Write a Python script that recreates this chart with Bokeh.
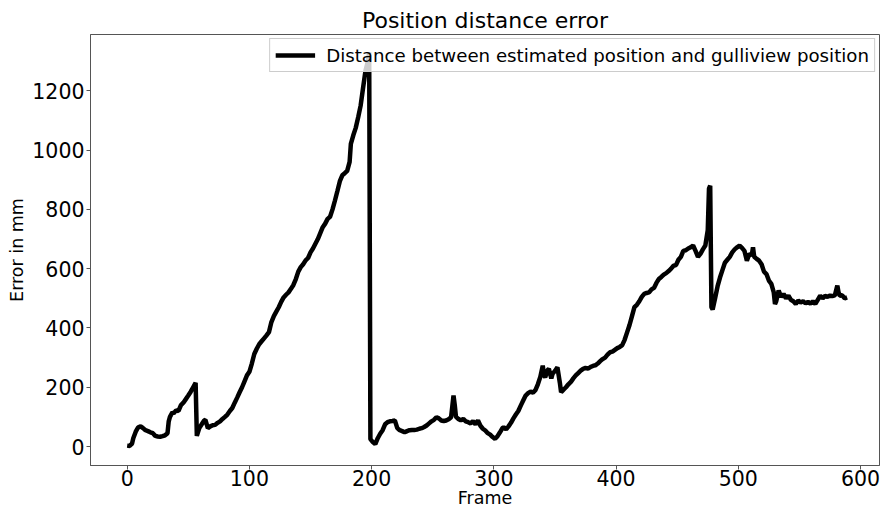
from bokeh.plotting import figure
from bokeh.models import Range1d, FixedTicker
from bokeh.embed import file_html
from bokeh.resources import INLINE

# ---- data ----
frames = [0, 2, 4, 5, 7, 9, 11, 13, 15, 17, 19, 21, 23, 25, 27, 29, 31, 33, 34, 35, 37, 38, 40, 42, 44, 46, 48, 50,
          52, 54, 56, 57, 59, 61, 63, 64, 66, 68, 70, 72, 74, 76, 78, 80, 82, 84, 86, 88, 90, 92, 94, 96, 98, 100,
          102, 104, 106, 108, 110, 112, 114, 116, 118, 120, 122, 124, 126, 128, 130, 132, 134, 136, 138, 140, 142,
          144, 146, 148, 150, 152, 154, 156, 158, 160, 162, 164, 166, 168, 170, 172, 174, 176, 178, 180, 182, 183,
          185, 187, 189, 191, 193, 195, 197, 198, 199, 201, 203, 205, 207, 209, 211, 213, 215, 217, 219, 221, 223,
          225, 227, 229, 231, 233, 235, 237, 239, 241, 243, 245, 247, 249, 251, 253, 255, 257, 259, 261, 263, 265,
          266, 267, 268, 269, 271, 273, 275, 277, 279, 281, 283, 285, 287, 289, 291, 293, 295, 297, 299, 301, 303,
          305, 307, 308, 310, 312, 314, 316, 318, 320, 322, 324, 326, 328, 330, 332, 334, 336, 338, 340, 341, 342,
          344, 345, 347, 348, 350, 352, 354, 355, 357, 359, 361, 363, 365, 367, 369, 371, 373, 375, 377, 379, 381,
          383, 385, 387, 389, 391, 393, 395, 397, 399, 401, 403, 405, 407, 409, 411, 413, 415, 417, 419, 421, 423,
          425, 427, 429, 431, 433, 435, 437, 439, 441, 443, 445, 447, 449, 451, 453, 455, 457, 459, 461, 463, 465,
          467, 469, 471, 473, 475, 476, 477, 478, 479, 481, 483, 485, 487, 489, 491, 493, 495, 497, 499, 501, 503,
          505, 507, 509, 511, 512, 513, 515, 517, 519, 521, 523, 525, 527, 529, 530, 531, 533, 535, 537, 539, 541,
          543, 545, 547, 549, 551, 553, 555, 557, 559, 561, 563, 565, 567, 569, 571, 573, 575, 577, 579, 581, 582,
          583, 585, 587, 589]
error_mm = [3, 2, 10, 28, 50, 65, 68, 62, 55, 52, 48, 45, 36, 34, 33, 35, 38, 45, 85, 100, 115, 112, 122, 120, 140,
            148, 160, 172, 185, 200, 215, 36, 62, 75, 88, 90, 62, 68, 72, 73, 80, 85, 93, 100, 108, 120, 130, 148,
            165, 183, 200, 220, 240, 252, 280, 312, 330, 345, 355, 365, 375, 386, 420, 440, 455, 470, 488, 503, 512,
            520, 532, 545, 565, 590, 605, 615, 628, 636, 655, 668, 684, 700, 720, 740, 752, 768, 775, 800, 830, 862,
            895, 915, 922, 930, 960, 1021, 1050, 1075, 1111, 1150, 1210, 1268, 1300, 1330, 25, 15, 8, 28, 43, 55,
            75, 82, 85, 86, 88, 62, 55, 52, 48, 52, 55, 56, 56, 57, 60, 62, 66, 71, 78, 85, 90, 99, 95, 88, 86, 88,
            92, 99, 135, 172, 140, 100, 93, 88, 93, 85, 82, 78, 86, 75, 88, 70, 60, 54, 45, 40, 32, 26, 35, 48, 62,
            65, 58, 68, 80, 95, 108, 120, 138, 155, 172, 180, 185, 182, 190, 210, 235, 273, 240, 234, 258, 262, 230,
            245, 255, 267, 215, 183, 192, 200, 210, 218, 230, 240, 248, 256, 262, 265, 263, 268, 272, 274, 280, 288,
            295, 300, 310, 318, 320, 326, 332, 336, 342, 360, 385, 410, 440, 470, 478, 490, 505, 515, 518, 520, 530,
            535, 552, 565, 572, 580, 585, 592, 600, 610, 612, 630, 640, 660, 662, 668, 672, 678, 660, 640, 650, 665,
            678, 730, 870, 880, 470, 462, 500, 540, 570, 595, 620, 630, 640, 655, 665, 672, 678, 670, 660, 627, 650,
            645, 672, 640, 633, 627, 615, 590, 582, 560, 549, 520, 481, 490, 526, 505, 515, 500, 509, 495, 490, 481,
            492, 486, 490, 483, 488, 482, 490, 481, 495, 509, 500, 508, 505, 509, 508, 510, 543, 520, 509, 510, 500,
            503]
x_ticks = [0, 100, 200, 300, 400, 500, 600]
y_ticks = [0, 200, 400, 600, 800, 1000, 1200]
title_text = "Position distance error"
x_label = "Frame"
y_label = "Error in mm"
legend_text = "Distance between estimated position and gulliview position"

FONT = "DejaVu Sans"

p = figure(width=881, height=510, output_backend="svg", toolbar_location=None,
           x_range=Range1d(-30, 615.5), y_range=Range1d(-64, 1390),
           min_border_left=90, min_border_right=2, min_border_top=34, min_border_bottom=45)

p.title.text = title_text
p.title.text_font = FONT
p.title.text_font_size = "22px"
p.title.text_font_style = "normal"
p.title.align = "center"
p.title.standoff = 4
p.title.text_color = "black"

p.line(frames, error_mm, line_color="black", line_width=4.5, legend_label=legend_text)

p.xgrid.visible = False
p.ygrid.visible = False
p.outline_line_color = "#555555"
p.outline_line_width = 1

for ax in (p.xaxis[0], p.yaxis[0]):
    ax.major_label_text_font = FONT
    ax.major_label_text_font_size = "20.5px"
    ax.major_label_text_color = "black"
    ax.axis_label_text_font = FONT
    ax.axis_label_text_font_size = "17.5px"
    ax.axis_label_text_font_style = "normal"
    ax.axis_label_text_color = "black"
    ax.axis_line_color = "#555555"
    ax.major_tick_line_color = "#555555"
    ax.major_tick_in = 0
    ax.major_tick_out = 4
    ax.minor_tick_line_color = None
    ax.major_label_standoff = 2
    ax.axis_label_standoff = 2

p.xaxis[0].major_label_standoff = 0
p.xaxis[0].axis_label_standoff = -1
p.xaxis[0].ticker = FixedTicker(ticks=x_ticks)
p.yaxis[0].ticker = FixedTicker(ticks=y_ticks)
p.xaxis[0].axis_label = x_label
p.yaxis[0].axis_label = y_label

lg = p.legend[0]
lg.location = "top_right"
lg.margin = 4
lg.padding = 5
lg.label_text_font = FONT
lg.label_text_font_size = "18.2px"
lg.label_text_color = "black"
lg.label_standoff = 11
lg.glyph_width = 40
lg.glyph_height = 22
lg.background_fill_alpha = 0.8
lg.border_line_color = "#cccccc"
lg.border_line_alpha = 1

open("out.html", "w").write(file_html(p, INLINE))
